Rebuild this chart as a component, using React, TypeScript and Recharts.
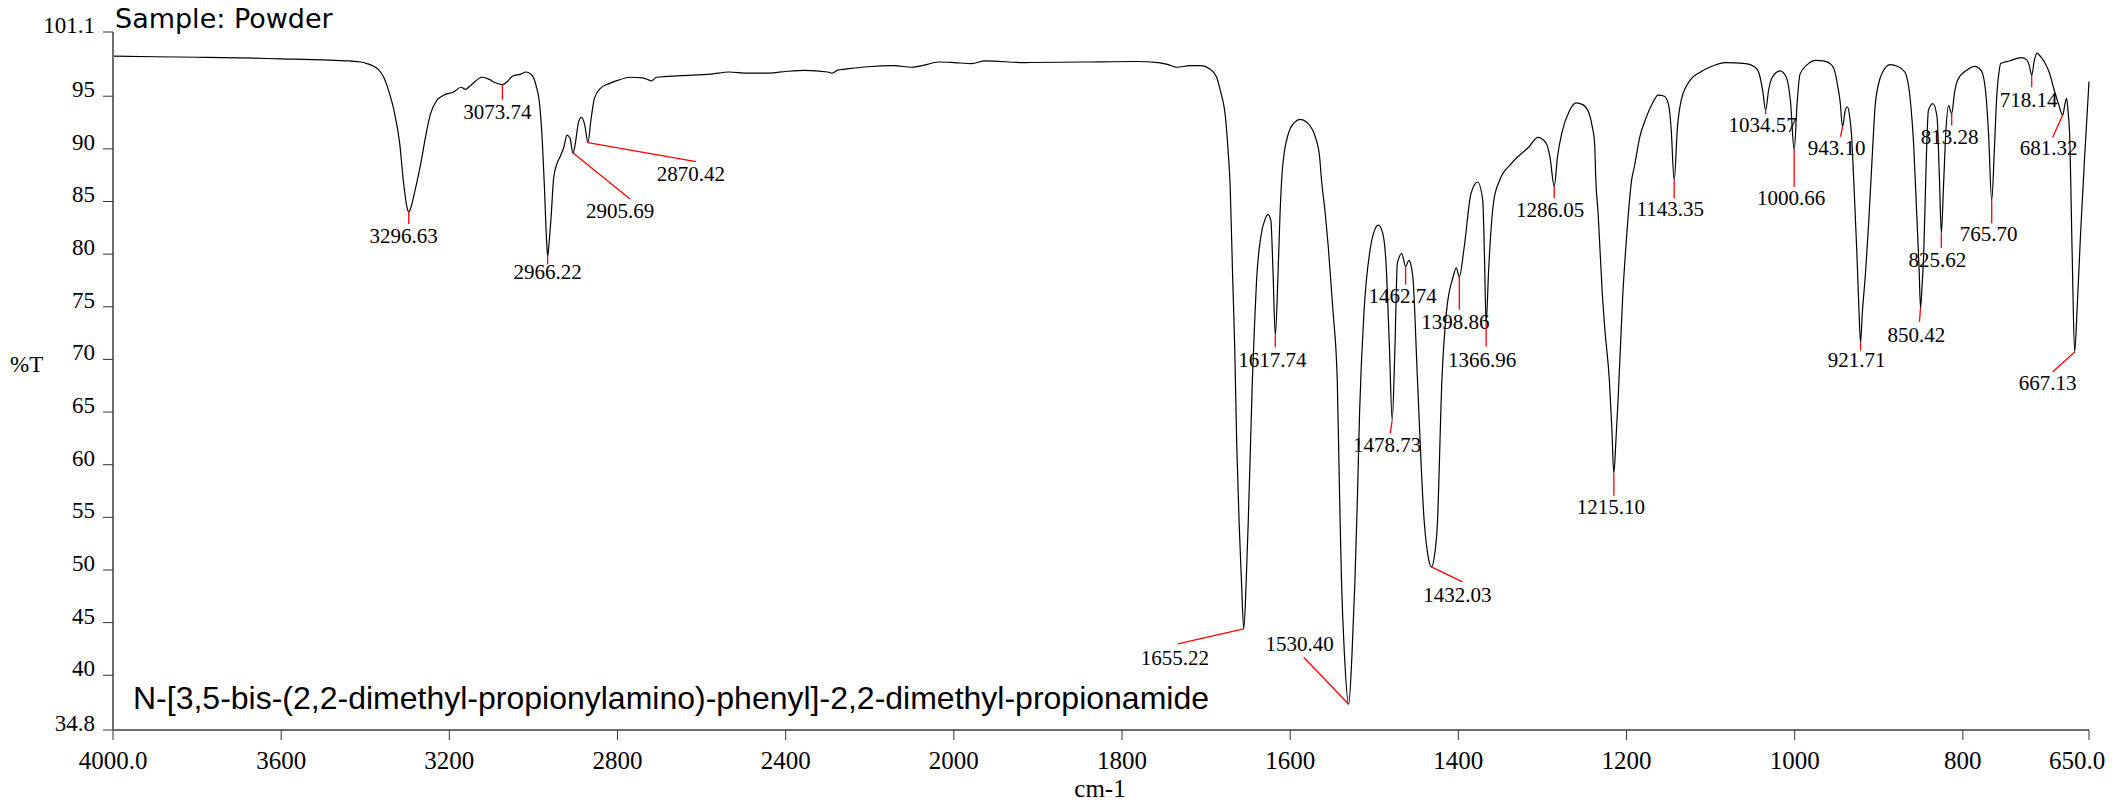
import { LineChart, Line, XAxis, YAxis, ReferenceDot } from 'recharts';

// IR spectrum, %T against wavenumber (cm-1). Axis scale doubles below 2000 cm-1.
const spectrum: [number, number][] = [
  [4000, 98.8], [3900, 98.75], [3800, 98.7], [3700, 98.65], [3600, 98.55], [3500, 98.45], [3440, 98.35],
  [3410, 98.25], [3396, 98.1], [3380, 97.85], [3368, 97.5], [3356, 96.8], [3345, 95.6], [3332, 93.7],
  [3318, 90.5], [3309, 86.8], [3301, 84.5], [3296.6, 84.0], [3291, 84.5], [3283, 85.8], [3268, 88.6],
  [3255, 91.5], [3245, 93.3], [3230, 94.6], [3213, 95.1], [3190, 95.4], [3172, 95.85], [3162, 95.65],
  [3150, 96.0], [3122, 96.8], [3105, 96.6], [3092, 96.3], [3074, 96.1], [3062, 96.4], [3050, 96.9],
  [3030, 97.1], [3018, 97.3], [3006, 97.1], [3000, 96.8], [2993, 95.9], [2986, 94.5], [2980, 91.5],
  [2974, 86.5], [2969, 81.5], [2966.2, 79.8], [2962.5, 81.2], [2958, 83.5], [2952, 87.2], [2944, 88.6],
  [2936, 89.3], [2928, 90.1], [2920, 91.3], [2913, 91.0], [2906, 89.6], [2900, 90.6], [2893, 92.5],
  [2886, 93.0], [2878, 92.3], [2870.4, 90.6], [2863, 92.8], [2855, 94.8], [2842, 95.7], [2820, 96.2],
  [2800, 96.5], [2769, 96.8], [2740, 96.75], [2726, 96.55], [2720, 96.45], [2707, 96.8], [2650, 96.95],
  [2577, 97.1], [2535, 97.3], [2490, 97.2], [2440, 97.2], [2400, 97.35], [2355, 97.45], [2300, 97.3],
  [2290, 97.2], [2275, 97.5], [2264, 97.55], [2205, 97.8], [2142, 97.9], [2100, 97.75], [2070, 97.95],
  [2037, 98.25], [2000, 98.2], [1979, 98.1], [1963, 98.35], [1915, 98.2], [1847, 98.25], [1783, 98.3],
  [1757, 98.2], [1745, 98.0], [1735, 97.75], [1719, 97.9], [1706, 97.9], [1696, 97.6], [1688, 96.9],
  [1683, 95.5], [1677, 93.0], [1674, 90], [1671.4, 86.5], [1668.5, 78], [1666, 71.2], [1663.5, 61.7],
  [1660.5, 54], [1658, 49], [1655.2, 44.4], [1652.5, 48.5], [1650, 54.3], [1647.5, 61], [1645, 68],
  [1642, 74], [1640, 77.5], [1635, 81.6], [1630, 83.3], [1626.5, 83.75], [1623, 83.2], [1620.5, 78.5],
  [1617.7, 72.3], [1614.5, 78], [1612, 84], [1609, 88.3], [1602, 91.5], [1595, 92.5], [1588, 92.8],
  [1580, 92.5], [1570, 91.1], [1565, 89.2], [1562.7, 87], [1558.5, 84], [1554.7, 80.7], [1549, 74.5],
  [1544, 68], [1541.5, 58], [1539, 49], [1535.5, 42], [1530.4, 37.25], [1526.5, 42], [1523, 49],
  [1520, 57], [1517.5, 64.9], [1512.3, 74.4], [1504.4, 80.7], [1499, 82.4], [1495.4, 82.75], [1490, 82],
  [1486, 79.1], [1482, 71.2], [1478.7, 64.2], [1475.4, 71.2], [1472.6, 79.1], [1467.3, 80.05],
  [1462.7, 78.8], [1459, 79.4], [1456.5, 79], [1453.8, 77.5], [1448.6, 68], [1440.7, 54.7], [1436, 51.3],
  [1432, 50.3], [1428.5, 51.3], [1425, 54.3], [1419.6, 68], [1414.3, 74.4], [1406.2, 77.85],
  [1402.5, 78.7], [1398.9, 77.85], [1393, 80.7], [1385, 85.75], [1377, 86.85], [1371, 85.1], [1369, 80],
  [1367, 73.4], [1364, 78.5], [1360, 83.5], [1357.8, 85.1], [1351, 87.0], [1337, 88.6], [1316, 90.2],
  [1305.5, 91.1], [1296, 90.6], [1291, 89.2], [1286, 86.45], [1282, 89.3], [1277, 91.5], [1268, 93.6],
  [1260, 94.36], [1252, 94.2], [1246, 93.66], [1241, 92.2], [1238, 90.6], [1236.5, 87], [1233.8, 83.85],
  [1229, 76.5], [1225.7, 72.8], [1220.4, 68], [1217.5, 63.5], [1215.1, 59.15], [1212.5, 62.5],
  [1209.9, 66.4], [1204.6, 75.9], [1199.3, 82.3], [1194, 87], [1190.7, 88.3], [1184, 91.2],
  [1176.5, 93.0], [1168, 94.5], [1162.6, 95.1], [1155, 95.0], [1150, 94.2], [1147, 92], [1143.35, 87.0],
  [1139.5, 92], [1135, 94.6], [1124.5, 96.5], [1112, 97.3], [1100, 97.8], [1082, 98.2], [1058, 98.1],
  [1048, 97.8], [1043, 97.3], [1038, 95.5], [1034.6, 93.66], [1031, 95.6], [1026.6, 96.8],
  [1017.4, 97.4], [1010, 96.8], [1005, 94.5], [1000.66, 89.9], [997, 94.5], [993.7, 97.1], [985, 98.0],
  [975, 98.4], [966, 98.35], [958, 98.1], [953.3, 97.6], [948.5, 95.8], [946, 94.5], [943.1, 92.1],
  [940, 93.6], [937.4, 94.0], [934.5, 93.0], [932.6, 91.5], [929.5, 86.5], [926, 80], [923.5, 74.5],
  [921.7, 71.6], [919.5, 74.5], [916, 78], [912, 83], [908, 89], [903.7, 94.6], [896, 97.2],
  [886.4, 98.0], [878, 97.85], [869, 97.3], [863, 95], [858.4, 90.2], [855, 84], [852, 78.5],
  [850.4, 74.9], [848.5, 77], [846.6, 80], [843.5, 89], [841, 93.66], [835.6, 94.3], [830.7, 93.0],
  [828, 87.5], [825.6, 82.0], [823, 86.5], [820.3, 91.5], [817, 94.1], [813.3, 93.35], [810, 95.3],
  [806.4, 96.5], [795, 97.5], [785.6, 97.84], [778, 97.4], [773, 95.5], [769.5, 91.5], [765.7, 85.1],
  [762.5, 90], [760, 94.6], [757, 97.3], [755, 98.1], [744.6, 98.35], [730.8, 98.67], [724, 98.45],
  [721, 97.9], [718.1, 97.0], [715, 98.4], [711.9, 99.1], [708, 98.8], [703, 98.25], [697, 97.2],
  [692.5, 95.9], [686, 94.2], [681.3, 93.2], [678.5, 94.3], [676.6, 94.8], [674.8, 93.5], [673.1, 91.5],
  [670, 80], [667.1, 70.7], [664, 75], [660, 82], [655, 89.5], [650, 96.4],
];

// labelled peaks: wavenumber, %T at the tip
const peaks: [number, number][] = [
  [3296.63, 84.0], [3073.74, 96.1], [2966.22, 79.8], [2905.69, 89.6], [2870.42, 90.6],
  [1655.22, 44.4], [1617.74, 72.3], [1530.4, 37.25], [1478.73, 64.2], [1462.74, 78.8],
  [1432.03, 50.3], [1398.86, 77.85], [1366.96, 73.4], [1286.05, 86.45], [1215.1, 59.15],
  [1143.35, 87.0], [1034.57, 93.66], [1000.66, 89.9], [943.1, 92.1], [921.71, 71.6],
  [850.42, 74.9], [825.62, 82.0], [813.28, 93.35], [765.7, 85.1], [718.14, 97.0],
  [681.32, 93.2], [667.13, 70.7],
];

// leader end (dx, dy) and label anchor (lx, ly) in px from the tip, same order as peaks
const peakLabelOffsets = [
  { dx: 0, dy: 12, lx: -5, ly: 31 }, { dx: 0, dy: 15, lx: -5, ly: 34 }, { dx: 0, dy: 8, lx: 0, ly: 23 },
  { dx: 57, dy: 46, lx: 47, ly: 65 }, { dx: 108, dy: 19, lx: 103, ly: 38 },
  { dx: -66, dy: 15, lx: -69, ly: 36 }, { dx: 0, dy: 12, lx: -3, ly: 32 }, { dx: -45, dy: -47, lx: -49, ly: -53 },
  { dx: -2, dy: 13, lx: -5, ly: 32 }, { dx: 0, dy: 18, lx: -3, ly: 36 }, { dx: 31, dy: 15, lx: 26, ly: 35 },
  { dx: 0, dy: 33, lx: -4, ly: 52 }, { dx: 0, dy: 23, lx: -4, ly: 43 }, { dx: 0, dy: 12, lx: -4, ly: 31 },
  { dx: 0, dy: 22, lx: -3, ly: 40 }, { dx: 0, dy: 18, lx: -4, ly: 36 }, { dx: 0, dy: 4, lx: -3, ly: 22 },
  { dx: 0, dy: 37, lx: -3, ly: 55 }, { dx: -2, dy: 10, lx: -6, ly: 28 }, { dx: 0, dy: 8, lx: -4, ly: 24 },
  { dx: -1, dy: 14, lx: -4, ly: 34 }, { dx: 0, dy: 15, lx: -4, ly: 34 }, { dx: 0, dy: 12, lx: -2, ly: 30 },
  { dx: 0, dy: 23, lx: -3, ly: 41 }, { dx: 0, dy: 12, lx: -3, ly: 32 }, { dx: -10, dy: 22, lx: -14, ly: 40 },
  { dx: -22, dy: 20, lx: -27, ly: 38 },
];

const xTicks = [4000, 3600, 3200, 2800, 2400, 2000, 1800, 1600, 1400, 1200, 1000, 800, 650];
const xTickLabels = ['4000.0', '3600', '3200', '2800', '2400', '2000', '1800', '1600', '1400', '1200', '1000', '800', '650.0'];
const yTicks = [34.8, 40, 45, 50, 55, 60, 65, 70, 75, 80, 85, 90, 95, 100, 101.1];
const yTickLabels = ['34.8', '40', '45', '50', '55', '60', '65', '70', '75', '80', '85', '90', '95', '', '101.1'];

// position on the x axis: 4000-2000 is drawn at half the density of 2000-650
const toU = (wn: number) => (wn >= 2000 ? (4000 - wn) / 2 : 1000 + (2000 - wn));

const serif = '"Liberation Serif", "Times New Roman", serif';
const data = spectrum.map(([wn, t]) => ({ u: toU(wn), t }));

function XTick({ x, y, payload }: any) {
  const i = xTicks.findIndex((w) => Math.abs(toU(w) - payload.value) < 1e-6);
  const shift = i === xTicks.length - 1 ? -12 : 0;
  return (
    <text x={x + shift} y={y + 29} textAnchor="middle" style={{ fontFamily: serif, fontSize: 25 }} fill="#000">
      {xTickLabels[i]}
    </text>
  );
}

function YTick({ x, y, payload }: any) {
  const i = yTicks.findIndex((v) => Math.abs(v - payload.value) < 1e-6);
  return (
    <text x={x} y={y + 1} textAnchor="end" style={{ fontFamily: serif, fontSize: 23 }} fill="#000">
      {yTickLabels[i]}
    </text>
  );
}

function peakShape(i: number) {
  const o = peakLabelOffsets[i];
  const label = peaks[i][0].toFixed(2);
  return (props: any) => {
    const { cx, cy } = props;
    return (
      <g>
        <line x1={cx} y1={cy} x2={cx + o.dx} y2={cy + o.dy} stroke="#ff0000" strokeWidth={1.3} />
        <text x={cx + o.lx} y={cy + o.ly} textAnchor="middle" style={{ fontFamily: serif, fontSize: 21 }} fill="#000">
          {label}
        </text>
      </g>
    );
  };
}

export default function App() {
  return (
    <div style={{ position: 'absolute', left: 0, top: 0, width: 2120, height: 802, background: '#fff' }}>
      <LineChart width={2120} height={802} data={data} margin={{ top: 32, right: 31, bottom: 32, left: 53 }}>
        <XAxis
          dataKey="u"
          type="number"
          domain={[0, 2350]}
          ticks={xTicks.map(toU)}
          height={40}
          tickSize={10}
          tickMargin={0}
          axisLine={{ stroke: '#6e6e6e', strokeWidth: 2 }}
          tickLine={{ stroke: '#333' }}
          tick={<XTick />}
        />
        <YAxis
          type="number"
          domain={[34.8, 101.1]}
          ticks={yTicks}
          width={60}
          tickSize={10}
          tickMargin={8}
          axisLine={{ stroke: '#6e6e6e', strokeWidth: 2 }}
          tickLine={{ stroke: '#333' }}
          tick={<YTick />}
        />
        <Line type="monotone" dataKey="t" stroke="#000" strokeWidth={1.2} dot={false} isAnimationActive={false} />
        {peaks.map(([wn, t], i) => (
          <ReferenceDot key={wn} x={toU(wn)} y={t} r={0} shape={peakShape(i)} />
        ))}
      </LineChart>
      <svg width={2120} height={802} style={{ position: 'absolute', left: 0, top: 0, pointerEvents: 'none' }}>
        <text x={115} y={28} style={{ fontFamily: '"DejaVu Sans", sans-serif', fontSize: 27 }} fill="#000">
          Sample: Powder
        </text>
        <text x={133} y={709} style={{ fontFamily: '"Liberation Sans", Arial, sans-serif', fontSize: 32 }} fill="#000">
          N-[3,5-bis-(2,2-dimethyl-propionylamino)-phenyl]-2,2-dimethyl-propionamide
        </text>
        <text x={10} y={372} style={{ fontFamily: serif, fontSize: 23 }} fill="#000">
          %T
        </text>
        <text x={1100} y={797} textAnchor="middle" style={{ fontFamily: serif, fontSize: 25 }} fill="#000">
          cm-1
        </text>
      </svg>
    </div>
  );
}
